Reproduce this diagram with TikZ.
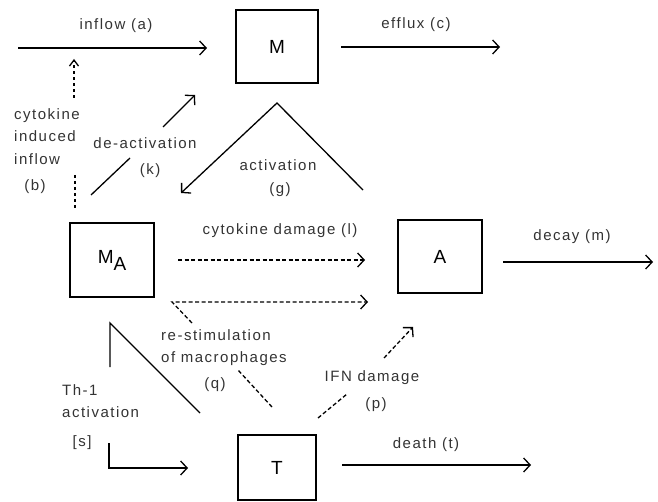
\documentclass[tikz,border=0pt]{standalone}
\usepackage{fontspec}
\setmainfont[LetterSpace=10]{Liberation Sans}
\usetikzlibrary{arrows.meta}
\begin{document}
\begin{tikzpicture}[x=1pt,y=-1pt,
  lbl/.style={font=\fontsize{15}{22.5}\selectfont, inner sep=0pt, text=black!80},
  box/.style={draw, line width=1.6pt, inner sep=0pt, font=\fontsize{19}{22}\selectfont},
  arr/.style={line width=1.3pt, -{Straight Barb[length=6.5pt,width=14pt,line width=1.3pt]}},
  sol/.style={line width=1.3pt},
  dsh/.style={line width=1.3pt, dash pattern=on 4pt off 2.5pt}]
\useasboundingbox (0,0) rectangle (658,502);
% boxes
\node[box, minimum width=82pt, minimum height=73pt] (M) at (277,46.5) {M};
\node[box, minimum width=84pt, minimum height=74pt] (MA) at (112,260) {M\raisebox{-7pt}{A}};
\node[box, minimum width=84pt, minimum height=73pt] (A) at (440,256.5) {A};
\node[box, minimum width=78pt, minimum height=65pt] (T) at (277,467.5) {T};
% coordinates
\coordinate (inS) at (18,48);   \coordinate (inE) at (207,48);
\coordinate (efS) at (341,47);  \coordinate (efE) at (500,47);
\coordinate (cbA) at (74,98);   \coordinate (cbB) at (74,59);
\coordinate (cbC) at (75,175);  \coordinate (cbD) at (75,208);
\coordinate (deA) at (91,195);  \coordinate (deB) at (130,158);
\coordinate (deC) at (163,127); \coordinate (deD) at (195,95);
\coordinate (acA) at (363,190); \coordinate (acB) at (277,103); \coordinate (acC) at (181,193);
\coordinate (cdA) at (178,260); \coordinate (cdB) at (365,260);
\coordinate (rsA) at (272,407); \coordinate (rsB) at (238,370);
\coordinate (rsC) at (192,323); \coordinate (rsD) at (172,302); \coordinate (rsE) at (368,302);
\coordinate (ifA) at (318,418); \coordinate (ifB) at (347,394);
\coordinate (ifC) at (384,358); \coordinate (ifD) at (413,327);
\coordinate (thA) at (110,367); \coordinate (thB) at (110,323); \coordinate (thC) at (200,413);
\coordinate (thD) at (109,443); \coordinate (thE) at (109,468); \coordinate (thF) at (188,468);
\coordinate (dtS) at (342,465); \coordinate (dtE) at (531,465);
\coordinate (dcS) at (503,262); \coordinate (dcE) at (653,262);
% connectors
\draw[arr] (inS) -- (inE);
\draw[arr] (efS) -- (efE);
\draw[dsh, dash pattern=on 3pt off 3pt, -{Straight Barb[length=6pt,width=9pt,line width=1.3pt]}] (cbA) -- (cbB);
\draw[dsh, dash pattern=on 3pt off 3pt] (cbC) -- (cbD);
\draw[sol] (deA) -- (deB);
\draw[arr] (deC) -- (deD);
\draw[arr] (acA) -- (acB) -- (acC);
\draw[dsh, arr, dash pattern=on 4pt off 2.5pt] (cdA) -- (cdB);
\draw[dsh] (rsA) -- (rsB);
\draw[dsh, arr, dash pattern=on 4pt off 2.5pt] (rsC) -- (rsD) -- (rsE);
\draw[dsh] (ifA) -- (ifB);
\draw[dsh, arr, dash pattern=on 4pt off 2.5pt] (ifC) -- (ifD);
\draw[sol] (thA) -- (thB) -- (thC);
\draw[arr] (thD) -- (thE) -- (thF);
\draw[arr] (dtS) -- (dtE);
\draw[arr] (dcS) -- (dcE);
% labels
\node[lbl] (linf) at (116,26) {inflow (a)};
\node[lbl] (leff) at (416,25) {efflux (c)};
\node[lbl, align=left, anchor=north west] (lcyt) at (14,108) {cytokine\\induced\\inflow};
\node[lbl] (lb) at (35,187) {(b)};
\node[lbl] (lde) at (145,143) {de-activation};
\node[lbl] (lk) at (150,171) {(k)};
\node[lbl] (lact) at (278,165) {activation};
\node[lbl] (lg) at (280,190) {(g)};
\node[lbl] (lcd) at (280,231) {cytokine damage (l)};
\node[lbl] (ldec) at (572,237) {decay (m)};
\node[lbl, align=left, anchor=north west] (lrs) at (161,329) {re-stimulation\\of macrophages};
\node[lbl] (lq) at (215,385) {(q)};
\node[lbl] (lifn) at (372,378) {IFN damage};
\node[lbl] (lp) at (376,405) {(p)};
\node[lbl, align=left, anchor=north west] (lth) at (62,384) {Th-1\\activation};
\node[lbl] (ls) at (82,443) {[s]};
\node[lbl] (ldt) at (426,445) {death (t)};
\end{tikzpicture}
\end{document}
